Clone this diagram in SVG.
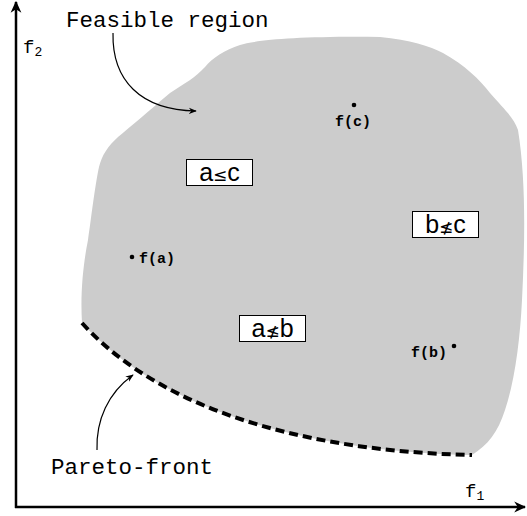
<svg xmlns="http://www.w3.org/2000/svg" width="527" height="516" viewBox="0 0 527 516">
<style>
.mono{font-family:"Liberation Mono","Courier New",monospace;fill:#000}
.lbl{font-size:22.5px}
.pt{font-size:15px;font-weight:bold}
.ax{font-family:"Liberation Mono",monospace;font-size:19px}
.rel{font-family:"Liberation Sans",Arial,sans-serif;font-size:25px;text-anchor:middle}
.sym{font-family:"DejaVu Sans",sans-serif;font-size:17px}
.box{fill:#fff;stroke:#000;stroke-width:1}
.thin{fill:none;stroke:#000;stroke-width:1.2}
</style>
<defs>
<marker id="ah" viewBox="0 0 10 10" refX="9" refY="5" markerWidth="8" markerHeight="8" markerUnits="userSpaceOnUse" orient="auto">
<path d="M0,1 L10,5 L0,9 L3,5 Z" fill="#000"/>
</marker>
<marker id="axh" viewBox="0 0 10 10" refX="9" refY="5" markerWidth="12" markerHeight="12" markerUnits="userSpaceOnUse" orient="auto">
<path d="M0,0.5 L10,5 L0,9.5 L3,5 Z" fill="#000"/>
</marker>
</defs>
<g id="region">
<path d="M82,323 C80,290 84,260 88,240 C91,220 95,185 99,167 C102,155 108,146 118,137 C130,127 150,110 170,93 C185,83 195,78 205,67 C212,58 225,50 240,45 C255,40 300,36 380,37 C410,40 430,46 443,53 C465,65 480,80 490,93 C505,110 514,118 518,130 C526,180 525,240 522,300 C520,340 515,380 505,410 C498,432 488,445 472,455 C330,452 170,420 82,323 Z" fill="#cccccc"/>
</g>
<g id="pareto">
<path d="M82,323 C170,420 330,452 472,455" fill="none" stroke="#000" stroke-width="4" stroke-dasharray="9 5"/>
</g>
<g id="axes">
<line x1="16" y1="508" x2="16" y2="2" stroke="#000" stroke-width="2.5" marker-end="url(#axh)"/>
<line x1="15" y1="507" x2="525" y2="507" stroke="#000" stroke-width="2.5" marker-end="url(#axh)"/>
<text class="ax" x="23" y="53">f<tspan font-size="13" dy="3">2</tspan></text>
<text class="ax" x="465" y="497">f<tspan font-size="13" dy="3">1</tspan></text>
</g>
<g id="connectors">
<path class="thin" d="M113,33 C112,80 140,110 196,111" marker-end="url(#ah)"/>
<path class="thin" d="M97,450 C96,420 108,393 133,375" marker-end="url(#ah)"/>
</g>
<g id="label-feasible"><text class="mono lbl" x="66" y="27">Feasible region</text></g>
<g id="label-pareto"><text class="mono lbl" x="51" y="474">Pareto-front</text></g>
<g id="point-a">
<circle cx="132" cy="257" r="2.3" fill="#000"/>
<text class="mono pt" x="139" y="263">f(a)</text>
</g>
<g id="point-b">
<circle cx="454" cy="346" r="2.3" fill="#000"/>
<text class="mono pt" x="411" y="357">f(b)</text>
</g>
<g id="point-c">
<circle cx="354" cy="105" r="2.3" fill="#000"/>
<text class="mono pt" x="353" y="126" text-anchor="middle">f(c)</text>
</g>
<g id="rel-ac">
<rect class="box" x="186.5" y="159.5" width="66" height="26"/>
<text class="rel" x="219.5" y="181">a<tspan class="sym">≤</tspan>c</text>
</g>
<g id="rel-bc">
<rect class="box" x="412.5" y="211.5" width="66" height="26"/>
<text class="rel" x="445.5" y="233">b<tspan class="sym">≰</tspan>c</text>
</g>
<g id="rel-ab">
<rect class="box" x="239.5" y="315.5" width="66" height="26"/>
<text class="rel" x="272.5" y="337">a<tspan class="sym">≰</tspan>b</text>
</g>
</svg>
